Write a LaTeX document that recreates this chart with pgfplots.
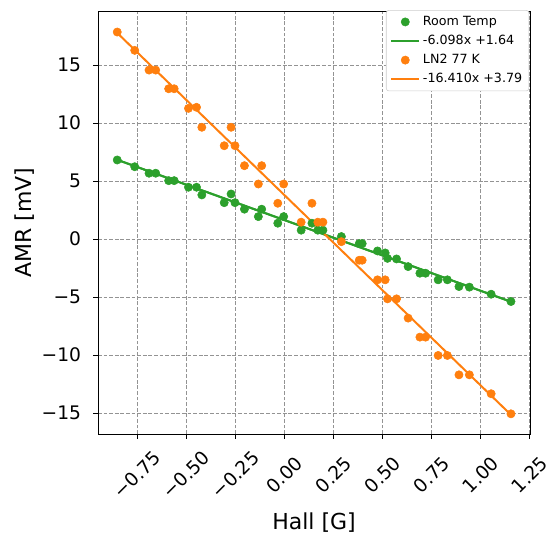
\documentclass[border=0pt]{standalone}
\usepackage{fontspec}
\setmainfont{DejaVu Sans}
\usepackage{pgfplots}
\usepackage{pgfplotstable}
\pgfplotsset{compat=1.18}
\definecolor{tabgreen}{HTML}{2CA02C}
\definecolor{taborange}{HTML}{FF7F0E}

% hall [G], room temp AMR [mV], LN2 AMR [mV]
\pgfplotstableread{
hall   room   ln2
-0.852  6.82  17.85
-0.763  6.24  16.27
-0.690  5.68  14.57
-0.656  5.68  14.57
-0.590  5.04  12.96
-0.562  5.04  12.96
-0.489  4.47  11.27
-0.448  4.47  11.36
-0.421  3.81   9.64
-0.307  3.14   8.05
-0.272  3.89   9.64
-0.252  3.14   8.05
-0.204  2.58   6.33
-0.133  1.94   4.75
-0.116  2.58   6.33
-0.034  1.37   3.09
-0.004  1.94   4.75
 0.085  0.77   1.46
 0.140  1.37   3.09
 0.170  0.77   1.46
 0.196  0.77   1.46
 0.290  0.22  -0.22
 0.381 -0.39  -1.82
 0.396 -0.39  -1.82
 0.474 -1.02  -3.51
 0.513 -1.19  -3.51
 0.525 -1.66  -5.15
 0.571 -1.71  -5.15
 0.630 -2.37  -6.81
 0.690 -2.94  -8.45
 0.719 -2.94  -8.45
 0.783 -3.51 -10.03
 0.830 -3.51 -10.03
 0.889 -4.09 -11.70
 0.942 -4.14 -11.70
 1.053 -4.75 -13.33
 1.154 -5.38 -15.06
}\amrdata

\begin{document}
\begin{tikzpicture}
\path[use as bounding box] (-73.5pt,-75.75pt) rectangle (338.25pt,325.5pt);
\begin{axis}[
  scale only axis, width=324pt, height=316.7pt,
  at={(0,0)}, anchor=south west,
  xmin=-0.95, xmax=1.251, ymin=-16.8, ymax=19.6,
  xtick={-0.75,-0.5,-0.25,0,0.25,0.5,0.75,1,1.25},
  xticklabels={−0.75,−0.50,−0.25,0.00,0.25,0.50,0.75,1.00,1.25},
  ytick={-15,-10,-5,0,5,10,15},
  yticklabels={−15,−10,−5,0,5,10,15},
  tick pos=left, tick align=outside, major tick length=3.5pt,
  tick style={black, line width=0.6pt},
  axis line style={black, line width=0.6pt},
  tick label style={font=\fontsize{14}{16}\selectfont},
  xticklabel style={rotate=45, anchor=center},
  xticklabel shift=27pt,
  yticklabel style={anchor=east, inner sep=0pt},
  yticklabel shift=9pt,
  grid=major,
  grid style={gray!85, line width=0.5pt, dash pattern=on 2.8pt off 1.4pt},
  xlabel={Hall [G]}, ylabel={AMR [mV]},
  label style={font=\fontsize{16.5}{19}\selectfont},
  xlabel style={at={(axis description cs:0.5,-0.2108)}, anchor=center},
  ylabel style={at={(axis description cs:-0.169,0.5)}, anchor=center},
  legend cell align=left,
  legend image code/.code={\draw[mark repeat=2,mark phase=2,#1]
    plot coordinates {(0cm,0cm) (0.37cm,0cm) (0.74cm,0cm)};},
  legend style={at={(0.998,1.004)}, anchor=north east,
    draw=black!20, fill=white, rounded corners=2pt,
    font=\fontsize{9.5}{11.5}\selectfont,
    row sep=1.8pt, inner xsep=3pt, inner ysep=2.5pt},
]
\addplot[only marks, mark=*, mark size=3.1pt, color=tabgreen]
  table[x=hall, y=room] {\amrdata};
\addlegendentry{Room Temp}
% fit lines, endpoints from the fits in the legend
\addplot[tabgreen, line width=1.5pt, mark=none]
  coordinates {(-0.852,6.835) (1.154,-5.397)};
\addlegendentry{-6.098x +1.64}
\addplot[only marks, mark=*, mark size=3.1pt, color=taborange]
  table[x=hall, y=ln2] {\amrdata};
\addlegendentry{LN2 77 K}
% green fit again so it sits above the orange dots, as lines do in the original
\addplot[forget plot, tabgreen, line width=1.5pt, mark=none]
  coordinates {(-0.852,6.835) (1.154,-5.397)};
\addplot[taborange, line width=1.5pt, mark=none]
  coordinates {(-0.852,17.771) (1.154,-15.147)};
\addlegendentry{-16.410x +3.79}
\end{axis}
\end{tikzpicture}
\end{document}
